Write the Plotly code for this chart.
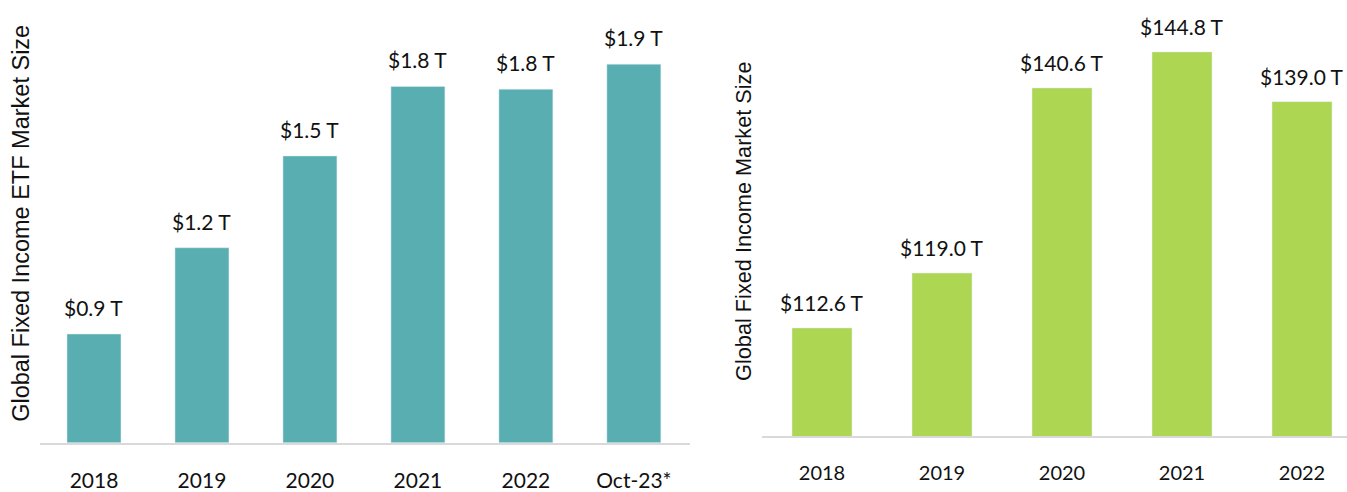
import plotly.graph_objects as go

# Left chart: Global Fixed Income ETF market size (trillions USD)
etf_categories = ["2018", "2019", "2020", "2021", "2022", "Oct-23*"]
etf_values = [0.89, 1.20, 1.53, 1.78, 1.77, 1.86]
etf_labels = ["$0.9 T", "$1.2 T", "$1.5 T", "$1.8 T", "$1.8 T", "$1.9 T"]

# Right chart: Global Fixed Income market size (trillions USD)
fi_categories = ["2018", "2019", "2020", "2021", "2022"]
fi_values = [112.6, 119.0, 140.6, 144.8, 139.0]
fi_labels = ["$112.6 T", "$119.0 T", "$140.6 T", "$144.8 T", "$139.0 T"]

TEAL = "#58AEB1"
GREEN = "#ADD653"
LINE = "#D9D9D9"
W, H = 1347, 492

fig = go.Figure()
fig.add_trace(go.Bar(x=etf_categories, y=etf_values, marker_color=TEAL,
                     xaxis="x", yaxis="y", hoverinfo="skip", width=0.5))
fig.add_trace(go.Bar(x=fi_categories, y=fi_values, marker_color=GREEN,
                     xaxis="x2", yaxis="y2", hoverinfo="skip", width=0.5))

annotations = []
for i, (v, t) in enumerate(zip(etf_values, etf_labels)):
    annotations.append(dict(x=i, y=v, xref="x", yref="y", text=t, showarrow=False,
                            yanchor="bottom", yshift=12,
                            font=dict(family="Lato", size=21, color="#111111")))
for i, (v, t) in enumerate(zip(fi_values, fi_labels)):
    annotations.append(dict(x=i, y=v, xref="x2", yref="y2", text=t, showarrow=False,
                            yanchor="bottom", yshift=11,
                            font=dict(family="Lato", size=21, color="#111111")))

annotations.append(dict(x=21 / W, y=(H - 228.5) / H, xref="paper", yref="paper",
                        text="Global Fixed Income ETF Market Size", textangle=-90,
                        showarrow=False, xanchor="center", yanchor="middle",
                        font=dict(family="Liberation Sans", size=23.5, color="#111111")))
annotations.append(dict(x=744 / W, y=(H - 226.5) / H, xref="paper", yref="paper",
                        text="Global Fixed Income Market Size", textangle=-90,
                        showarrow=False, xanchor="center", yanchor="middle",
                        font=dict(family="Liberation Sans", size=21.7, color="#111111")))

left_bottom = 451.7
right_bottom = 445.0

fig.update_layout(
    width=W, height=H,
    margin=dict(l=0, r=0, t=0, b=0),
    paper_bgcolor="white", plot_bgcolor="white",
    showlegend=False,
    annotations=annotations,
    xaxis=dict(type="category", domain=[40 / W, 690 / W], range=[-0.5, 5.52],
               showline=True, linecolor=LINE, linewidth=2,
               ticks="outside", ticklen=18, tickcolor="rgba(0,0,0,0)",
               showgrid=False, zeroline=False,
               tickfont=dict(family="Lato", size=21, color="#111111"),
               anchor="y"),
    yaxis=dict(domain=[(H - left_bottom) / H, 1], range=[0.5, 0.5 + left_bottom / 284],
               showticklabels=False, showgrid=False, zeroline=False, showline=False,
               anchor="x"),
    xaxis2=dict(type="category", domain=[762 / W, 1], range=[-0.5, 4.375],
                showline=True, linecolor=LINE, linewidth=2,
                ticks="outside", ticklen=18, tickcolor="rgba(0,0,0,0)",
                showgrid=False, zeroline=False,
                tickfont=dict(family="Lato", size=20, color="#111111"),
                anchor="y2"),
    yaxis2=dict(domain=[(H - right_bottom) / H, 1], range=[100, 100 + right_bottom / 8.75],
                showticklabels=False, showgrid=False, zeroline=False, showline=False,
                anchor="x2"),
)

fig.write_html(
    "out.html",
    config={"displayModeBar": False, "staticPlot": True},
    post_script=(
        "document.documentElement.style.margin='0';"
        "document.documentElement.style.padding='0';"
        "document.documentElement.style.overflow='hidden';"
        "document.body.style.margin='0';"
        "document.body.style.padding='0';"
        "document.body.style.overflow='hidden';"
    ),
)
